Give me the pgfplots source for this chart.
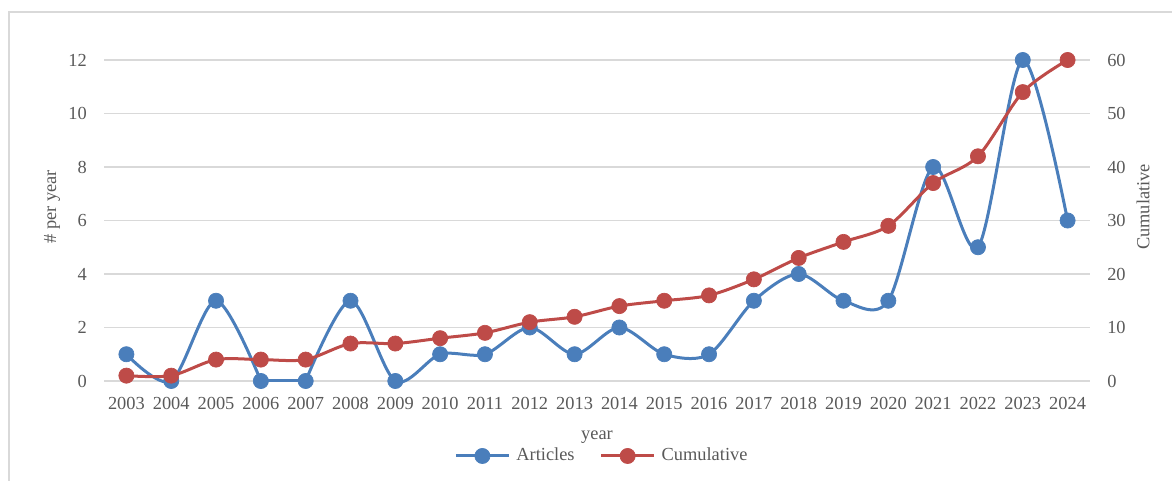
\documentclass[border=0pt]{standalone}
\usepackage{fontspec}
\setmainfont{Liberation Serif}
\usepackage{pgfplots}
\pgfplotsset{compat=1.18}
\definecolor{blueS}{HTML}{4A7EBB}
\definecolor{redS}{HTML}{BE4B48}
\definecolor{gridc}{HTML}{D9D9D9}
\definecolor{txt}{HTML}{595959}
\begin{document}
\fontsize{13.8pt}{16pt}\selectfont
\begin{tikzpicture}[x=1pt,y=1pt]
\def\pxu{0.75}
\path[use as bounding box] (-104*\pxu,-100*\pxu) rectangle (1068*\pxu,381*\pxu);
\draw[gridc, line width=1.5pt] (-95*\pxu,-101*\pxu) -- (-95*\pxu,369*\pxu) -- (1069*\pxu,369*\pxu);
\pgfplotsset{
  common/.style={
    at={(0,0)}, anchor=south west, scale only axis,
    width=739.5pt, height=240.75pt,
    xmin=-0.5, xmax=21.5, clip=false,
    axis line style={draw=none}, major tick length=0pt,
    tick label style={text=txt},
    /pgf/number format/assume math mode=true,
  },
  artline/.style={blueS, line width=2.25pt, smooth, no markers},
  artmark/.style={only marks, mark=*, mark size=5.7pt, mark options={fill=blueS, draw=blueS, line width=0.5pt}},
}
\begin{axis}[common,
  ymin=0, ymax=12, ytick={0,2,...,12},
  xtick={0,...,21},
  xticklabels={2003,2004,2005,2006,2007,2008,2009,2010,2011,2012,2013,2014,2015,2016,2017,2018,2019,2020,2021,2022,2023,2024},
  ymajorgrids, grid style={gridc, line width=1.1pt},
  yticklabel style={anchor=east, inner sep=0pt, xshift=-17*0.75pt},
  xticklabel style={anchor=north, inner sep=0pt, yshift=-16*0.75pt},
]
\addplot[artline] coordinates {(0,1) (1,0) (2,3) (3,0)};
\addplot[blueS, line width=2.25pt, no markers] coordinates {(3,0) (4,0)};
\addplot[artline] coordinates {
(4,0) (5,3) (6,0) (7,1) (8,1) (9,2) (10,1)
(11,2) (12,1) (13,1) (14,3) (15,4) (16,3) (17,3) (18,8) (19,5) (20,12) (21,6)};
\addplot[artmark] coordinates {
(0,1) (1,0) (2,3) (3,0) (4,0) (5,3) (6,0) (7,1) (8,1) (9,2) (10,1)
(11,2) (12,1) (13,1) (14,3) (15,4) (16,3) (17,3) (18,8) (19,5) (20,12) (21,6)};
\end{axis}
\begin{axis}[common,
  ymin=0, ymax=60, ytick={0,10,...,60},
  axis x line=none, axis y line*=right,
  yticklabel style={anchor=west, inner sep=0pt, xshift=17*0.75pt},
  legend columns=2,
  legend style={at={(axis description cs:0.504,-0.2336)}, anchor=center, draw=none, fill=none,
    text=txt, inner sep=0pt, nodes={inner sep=0pt},
    /tikz/every odd column/.append style={column sep=6*0.75pt},
    /tikz/every even column/.append style={column sep=25*0.75pt}},
  legend image code/.code={\draw[#1, mark repeat=2, mark phase=2] plot coordinates {(0pt,0pt) (19.875pt,0pt) (39.75pt,0pt)};},
]
\addlegendimage{blueS, line width=2.25pt, mark=*, mark size=5.7pt, mark options={fill=blueS, draw=blueS, line width=0.5pt}}
\addlegendentry{Articles}
\addplot[redS, line width=2.25pt, smooth, mark=*, mark size=5.7pt, mark options={fill=redS, draw=redS, line width=0.5pt}] coordinates {
(0,1) (1,1) (2,4) (3,4) (4,4) (5,7) (6,7) (7,8) (8,9) (9,11) (10,12)
(11,14) (12,15) (13,16) (14,19) (15,23) (16,26) (17,29) (18,37) (19,42) (20,54) (21,60)};
\addlegendentry{Cumulative}
\end{axis}
\node[rotate=90, text=txt] at (-52*\pxu, 174*\pxu) {\# per year};
\node[rotate=90, text=txt] at (1039*\pxu, 174*\pxu) {Cumulative};
\node[anchor=base, text=txt] at (493*\pxu, -59*\pxu) {year};
\end{tikzpicture}
\end{document}
